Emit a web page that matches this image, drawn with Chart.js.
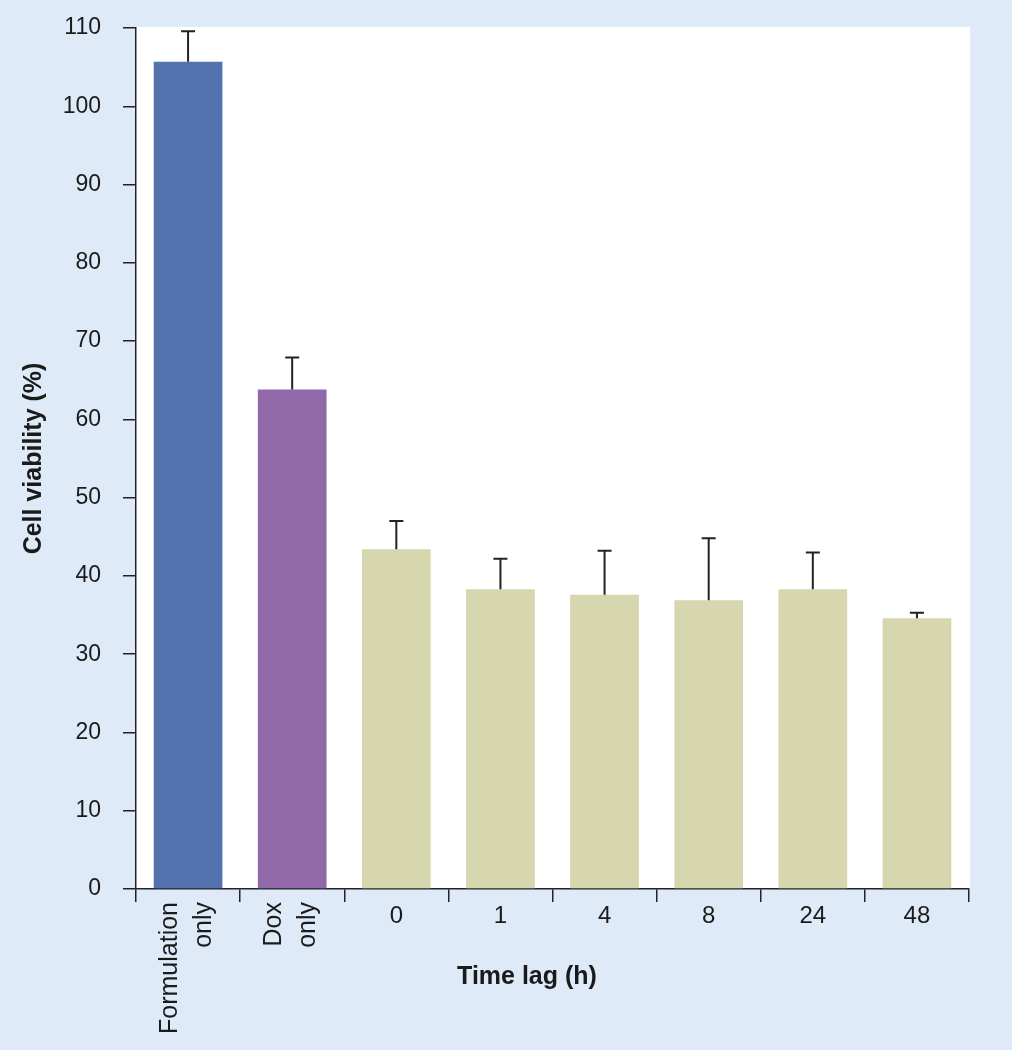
<!DOCTYPE html>
<html>
<head>
<meta charset="utf-8">
<script src="https://cdn.jsdelivr.net/npm/chart.js@4.4.1/dist/chart.umd.min.js"></script>
<style>
  html, body { margin: 0; padding: 0; background: #dfeaf8; }
  #wrap { width: 1012px; height: 1050px; }
</style>
</head>
<body>
<div id="wrap"><canvas id="c" width="1012" height="1050"></canvas></div>
<script>
const categories = [["Formulation", "only"], ["Dox", "only"], "0", "1", "4", "8", "24", "48"];
const viability = [105.7, 63.8, 43.4, 38.3, 37.6, 36.9, 38.3, 34.6];
const errorUp = [3.9, 4.1, 3.6, 3.9, 5.6, 7.9, 4.7, 0.7];
const barColors = ["#5472ae", "#9169a8", "#d6d7ae", "#d6d7ae", "#d6d7ae", "#d6d7ae", "#d6d7ae", "#d6d7ae"];
const yMin = 0, yMax = 110, yStep = 10;
const yTitle = "Cell viability (%)";
const xTitle = "Time lag (h)";

const FONT = "'Liberation Sans', Arial, Helvetica, sans-serif";
const BG = "#dfeaf8";
const INK = "#1a1a1a";

const bgPlugin = {
  id: 'bg',
  beforeDraw(chart) {
    const ctx = chart.ctx, a = chart.chartArea;
    ctx.save();
    ctx.fillStyle = BG;
    ctx.fillRect(0, 0, chart.width, chart.height);
    ctx.fillStyle = "#ffffff";
    ctx.fillRect(a.left, a.top - 1, a.right - a.left + 1, a.bottom - a.top + 1);
    ctx.restore();
  }
};

const errPlugin = {
  id: 'err',
  afterDatasetsDraw(chart) {
    const ctx = chart.ctx;
    const meta = chart.getDatasetMeta(0);
    const ys = chart.scales.y;
    ctx.save();
    ctx.strokeStyle = "#222";
    ctx.lineWidth = 2;
    meta.data.forEach((bar, i) => {
      const x = bar.x;
      const y0 = ys.getPixelForValue(viability[i]);
      const y1 = ys.getPixelForValue(viability[i] + errorUp[i]);
      ctx.beginPath();
      ctx.moveTo(x, y0);
      ctx.lineTo(x, y1);
      ctx.moveTo(x - 7, y1);
      ctx.lineTo(x + 7, y1);
      ctx.stroke();
    });
    ctx.restore();
  }
};

const labelPlugin = {
  id: 'labels',
  afterDraw(chart) {
    const ctx = chart.ctx;
    const xs = chart.scales.x;
    const a = chart.chartArea;
    ctx.save();
    ctx.fillStyle = INK;
    categories.forEach((lab, i) => {
      const cx = xs.getPixelForValue(i);
      if (Array.isArray(lab)) {
        ctx.font = "25px " + FONT;
        ctx.textAlign = "right";
        ctx.textBaseline = "middle";
        const gap = 34;
        const n = lab.length;
        lab.forEach((line, j) => {
          const lx = cx + (j - (n - 1) / 2) * gap - 1;
          ctx.save();
          ctx.translate(lx, a.bottom + 13);
          ctx.rotate(-Math.PI / 2);
          ctx.fillText(line, 0, 0);
          ctx.restore();
        });
      } else {
        ctx.font = "24px " + FONT;
        ctx.textAlign = "center";
        ctx.textBaseline = "middle";
        ctx.fillText(lab, cx, a.bottom + 27);
      }
    });
    // axis titles
    ctx.font = "bold 25px " + FONT;
    ctx.textAlign = "center";
    ctx.textBaseline = "middle";
    ctx.fillText(xTitle, 527, 977);
    ctx.save();
    ctx.translate(34, (a.top + a.bottom) / 2);
    ctx.rotate(-Math.PI / 2);
    ctx.fillText(yTitle, 0, 0);
    ctx.restore();
    ctx.restore();
  }
};

new Chart(document.getElementById('c'), {
  type: 'bar',
  data: {
    labels: categories,
    datasets: [{
      data: viability,
      backgroundColor: barColors,
      borderWidth: 0,
      categoryPercentage: 1.0,
      barPercentage: 0.66
    }]
  },
  options: {
    responsive: false,
    animation: false,
    devicePixelRatio: 1,
    layout: { padding: { top: 28, right: 43, left: 0, bottom: 0 } },
    plugins: { legend: { display: false }, tooltip: { enabled: false } },
    scales: {
      x: {
        offset: true,
        grid: { display: true, offset: true, drawOnChartArea: false, drawTicks: true, tickLength: 13, color: "#222", lineWidth: 1.5 },
        border: { display: true, color: "#222", width: 1.5 },
        ticks: { display: false },
        afterFit(scale) { scale.height = 161; scale.paddingLeft = 0; scale.paddingRight = 0; }
      },
      y: {
        min: yMin,
        max: yMax,
        grid: { display: true, drawOnChartArea: false, drawTicks: true, tickLength: 13, color: "#222", lineWidth: 1.5 },
        border: { display: true, color: "#222", width: 1.5 },
        ticks: {
          stepSize: yStep,
          padding: 22,
          color: INK,
          font: { family: FONT, size: 23 }
        },
        afterFit(scale) { scale.width = 136; scale.paddingTop = 0; scale.paddingBottom = 0; }
      }
    }
  },
  plugins: [bgPlugin, errPlugin, labelPlugin]
});
</script>
</body>
</html>
